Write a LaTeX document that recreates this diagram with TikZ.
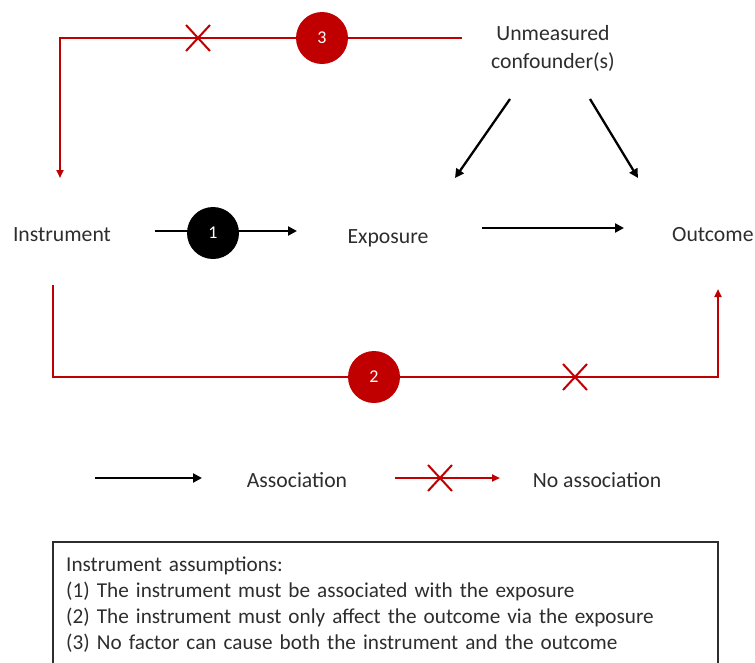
\documentclass[tikz,border=0pt]{standalone}
\usepackage{fontspec}
\setmainfont{Carlito}
\usetikzlibrary{arrows.meta,shapes.misc,positioning}
\definecolor{ivred}{RGB}{192,0,0}
\definecolor{txtgray}{RGB}{45,45,45}
\begin{document}
\begin{tikzpicture}
[
x=1pt, y=-1pt,
var/.style={text=txtgray, font=\fontsize{21.7}{28}\selectfont, inner sep=2pt, align=center},
assoc/.style={black, line width=2.3pt, -{Triangle[length=9pt,width=9pt]}},
noassoc/.style={ivred, line width=2pt, -{Triangle[length=8pt,width=7pt]}},
num/.style={circle, fill=ivred, text=white, minimum size=52pt, inner sep=0, font=\fontsize{18}{20}\selectfont},
numblack/.style={num, fill=black},
nocross/.style={cross out, draw=ivred, line width=2pt, minimum width=22pt, minimum height=24pt, inner sep=0}
]
\useasboundingbox (0,0) rectangle (755,662);

%Nodes
\node[var]                (conf)  at (553,48)   {Unmeasured\\confounder(s)};
\node[var]                (inst)  at (62,235)   {Instrument};
\node[var]                (expo)  at (388,238)  {Exposure};
\node[var, anchor=west]   (outc)  at (670,235)  {Outcome};

%Coordinates for the ends of the lines
\coordinate (t3) at (462,38);
\coordinate (i3) at (60,178);
\coordinate (m3) at (322,38);
\coordinate (b1) at (53,285);
\coordinate (b4) at (718,289);
\coordinate (m2) at (374,377);
\coordinate (ce1) at (510,99);
\coordinate (ce2) at (455,178);
\coordinate (co1) at (590,99);
\coordinate (co2) at (638,178);
\coordinate (ie1) at (155,231);
\coordinate (ie2) at (297,231);
\coordinate (eo1) at (482,228);
\coordinate (eo2) at (624,228);

%Lines
\draw[noassoc] (t3) -| (i3);
\draw[noassoc] (b1) -- (b1 |- m2) -| (b4);
\draw[assoc] (ce1) -- (ce2);
\draw[assoc] (co1) -- (co2);
\draw[assoc] (ie1) -- (ie2);
\draw[assoc] (eo1) -- (eo2);

%Numbers and crosses
\node[num]       (c3)  at (m3)        {3};
\node[num]       (c2)  at (m2)        {2};
\node[numblack]  (c1)  at (213,233)   {1};
\node[nocross]   (x3)  at (198,38)    {};
\node[nocross]   (x2)  at (575,377)   {};

%Legend
\coordinate (la1) at (95,478);
\coordinate (la2) at (202,478);
\coordinate (ln1) at (395,478);
\coordinate (ln2) at (500,478);
\draw[assoc] (la1) -- (la2);
\draw[noassoc] (ln1) -- (ln2);
\node[nocross]   (xl)  at (440,478)   {};
\node[var]       (lassoc)   at (297,480)  {Association};
\node[var]       (lnoassoc) at (597,480)  {No association};

%Assumptions
\node[draw=txtgray, line width=1.5pt, anchor=north west, minimum width=665pt, minimum height=140pt] (abox) at (52,541) {};
\node[anchor=north west, text width=640pt, inner sep=0, align=left, text=txtgray,
      font=\fontsize{21.2}{26}\selectfont] (assume) at ([xshift=14pt,yshift=-16pt]abox.north west)
{Instrument assumptions:\\
(1) The instrument must be associated with the exposure\\
(2) The instrument must only affect the outcome via the exposure\\
(3) No factor can cause both the instrument and the outcome};
\end{tikzpicture}
\end{document}
